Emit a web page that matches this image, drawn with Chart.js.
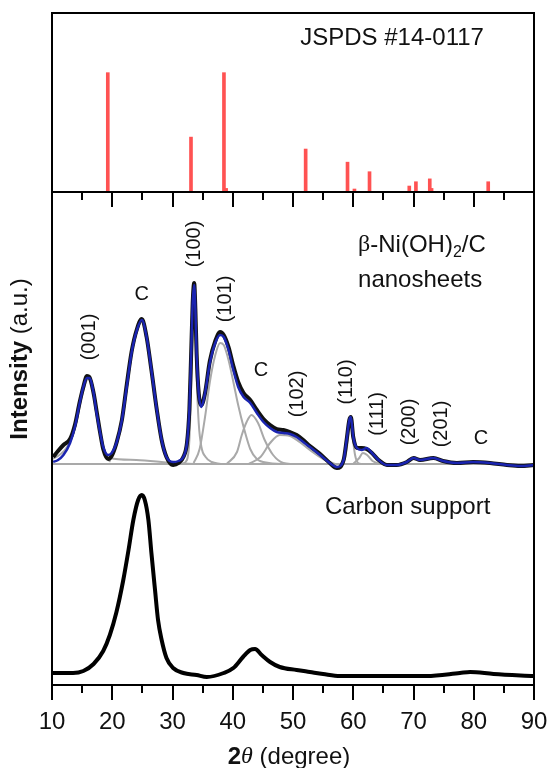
<!DOCTYPE html>
<html>
<head>
<meta charset="utf-8">
<script src="https://cdn.jsdelivr.net/npm/chart.js@4/dist/chart.umd.min.js"></script>
<style>
  body { margin: 0; background: #fff; }
  #wrap { position: relative; width: 548px; height: 768px; }
  canvas { position: absolute; left: 0; }
  #topChart { top: 0; }
  #mainChart { top: 192px; }
</style>
</head>
<body>
<div id="wrap">
  <canvas id="topChart" width="548" height="212"></canvas>
  <canvas id="mainChart" width="548" height="576"></canvas>
</div>
<script>
// reference pattern JSPDS #14-0117 (2θ, relative intensity)
const refPos = [19.26, 33.07, 38.54, 38.9, 52.1, 59.05, 60.2, 62.7, 69.3, 70.4, 72.7, 73.0, 82.4];
const refInt = [100, 46, 100, 3, 36, 25, 2.5, 17, 5, 8.6, 11, 3, 8.6];

// beta-Ni(OH)2/C nanosheets (offset a.u.)
const fitX = [10.2, 11.0, 11.9, 13.0, 13.8, 14.6, 15.2, 15.8, 16.2, 16.9, 17.4, 18.0, 18.5, 19.3, 19.9,
  20.7, 21.6, 22.4, 23.2, 24.1, 24.9, 25.7, 26.5, 27.4, 28.2, 29.0, 30.1, 31.0, 31.8, 32.4, 32.8,
  33.1, 33.35, 33.6, 33.8, 34.0, 34.35, 34.8, 35.4, 36.2, 37.1, 37.9, 38.5, 39.3, 40.1, 40.9, 41.8,
  42.9, 44.0, 45.1, 46.2, 47.3, 48.4, 49.5, 50.6, 51.7, 52.8, 54.5, 56.1, 57.3, 58.4, 58.9, 59.35,
  59.6, 60.0, 60.6, 61.4, 62.2, 63.1, 64.2, 65.6, 67.2, 68.9, 70.0, 71.1, 73.3, 74.9, 77.2, 79.9,
  82.7, 85.5, 87.7, 90.0];
const fitY = [223, 225, 230, 242, 258, 282, 298, 307, 307, 292, 272, 252, 238, 230, 232,
  242, 265, 298, 332, 355, 365, 348, 315, 275, 245, 228, 223, 224, 228, 242, 275,
  332, 382, 400, 375, 332, 292, 278, 292, 322, 342, 350, 348, 335, 315, 298, 288,
  282, 272, 263, 257, 253, 252, 251, 248, 243, 238, 230, 222, 218, 225, 245, 265,
  268, 248, 237, 235, 237, 232, 225, 220, 220, 223, 227, 225, 227, 224, 222, 223,
  222, 220, 219, 220];
const rawY = [228, 234, 240, 246, 260, 283, 298, 309, 308, 292, 274, 252, 236, 226, 229,
  242, 265, 300, 333, 356, 366, 348, 315, 275, 245, 228, 220, 222, 228, 242, 275,
  332, 382, 402, 375, 332, 292, 280, 292, 324, 344, 353, 350, 338, 319, 303, 292,
  285, 275, 266, 260, 256, 255, 253, 250, 245, 239, 231, 222, 217, 225, 245, 265,
  268, 248, 237, 237, 236, 232, 225, 220, 220, 223, 227, 225, 227, 224, 222, 223,
  222, 220, 219, 220];

// fitted components
const baseLine = [[10, 221], [90, 221]];
const peak001 = [[10, 226], [11, 229], [12, 234], [13, 243], [14, 262], [15, 290], [16, 306], [16.6, 302],
  [17.4, 272], [18.2, 244], [19, 230], [19.6, 227], [24, 225], [30, 222], [34, 221]];
const peakC1 = [[19.5, 223], [20.7, 240], [21.6, 264], [22.4, 297], [23.2, 331], [24.1, 354], [24.9, 364],
  [25.7, 347], [26.5, 314], [27.4, 274], [28.2, 244], [29, 228], [30, 222], [31, 221]];
const peak100 = [[31.5, 221], [32.4, 225], [32.8, 245], [33.1, 300], [33.35, 360], [33.6, 392], [33.8, 365],
  [34.0, 310], [34.35, 262], [34.8, 238], [35.5, 228], [36.5, 223], [38, 221]];
const peak101 = [[33.5, 222], [34.5, 236], [35.4, 268], [36.2, 303], [37.1, 330], [37.9, 342], [38.5, 340],
  [39.3, 325], [40.1, 303], [40.9, 280], [41.8, 258], [42.9, 236], [44, 226], [46, 222], [48, 221]];
const peakC2 = [[39, 221], [40.7, 233], [41.5, 250], [42.3, 263], [43.1, 270], [44.2, 262], [45.3, 245],
  [46.7, 230], [48.4, 222], [50, 221]];
const peak102 = [[42.6, 221], [44.6, 228], [46.2, 242], [47.8, 250], [49.5, 249], [51.1, 243], [52.8, 235],
  [55, 226], [57, 221]];
const peak110 = [[57.8, 221], [58.6, 226], [59.0, 240], [59.35, 258], [59.6, 262], [59.9, 248], [60.3, 230],
  [60.8, 222], [61.5, 221]];
const peak111 = [[60, 221], [61.0, 227], [61.6, 232], [62.3, 230], [63.2, 224], [64.5, 221]];

// carbon support
const carbonX = [10, 11.3, 13.5, 15.2, 16.9, 18.5, 19.6, 20.7, 21.8, 22.7, 23.5, 24.3, 24.9, 25.4, 26.0,
  26.5, 27.1, 27.6, 28.2, 29.0, 30.1, 31.8, 34.0, 35.7, 38.5, 40.1, 41.7, 42.9, 43.7, 44.8, 46.2,
  47.8, 50.6, 52.8, 55.0, 57.8, 60.6, 66.1, 72.2, 77.7, 79.4, 83.3, 90];
const carbonY = [12, 12, 12, 14, 21, 34, 50, 73, 104, 135, 165, 185, 190, 185, 165,
  132, 95, 65, 45, 27, 17, 12, 10, 8, 12, 17, 28, 35, 36, 30, 23,
  18, 15, 13, 11, 9, 9, 9, 9, 12, 13, 11, 9];

// peak labels: text, 2θ, height, rotated
const peakLabels = [
  ['(001)', 16.3, 348, true], ['C', 24.9, 391, false], ['(100)', 33.7, 441, true],
  ['(101)', 38.8, 386, true], ['C', 44.7, 315, false], ['(102)', 50.8, 291, true],
  ['(110)', 58.9, 303, true], ['(111)', 64.1, 271, true], ['(200)', 69.4, 263, true],
  ['(201)', 74.6, 261, true], ['C', 81.2, 247, false]
];

const FONT = "'Liberation Sans', Arial, sans-serif";
const pts = (xs, ys) => xs.map((x, i) => ({ x, y: ys[i] }));
const pairs = arr => arr.map(p => ({ x: p[0], y: p[1] }));

function minorTicks(ctx, xs, y0) {
  ctx.beginPath();
  for (let v = 15; v < 90; v += 10) {
    const px = Math.round(xs.getPixelForValue(v));
    ctx.moveTo(px, y0);
    ctx.lineTo(px, y0 + 8);
  }
  ctx.stroke();
}

function xAxis(showLabels) {
  return {
    type: 'linear', min: 10, max: 90, offset: false,
    ticks: { display: showLabels, stepSize: 10, color: '#111', padding: 8, font: { family: FONT, size: 24 } },
    grid: { drawOnChartArea: false, offset: false, tickLength: 15, color: '#000', lineWidth: 2 },
    border: { display: true, color: '#000', width: 2 },
    afterFit(s) {
      s.paddingLeft = 0; s.paddingRight = 0;
      s.height = showLabels ? 83 : 20;
    }
  };
}

/* ======================
   TOP: reference sticks
====================== */
const topDeco = {
  id: 'topDeco',
  afterDraw(chart) {
    const { ctx, chartArea: a, scales: { x, y } } = chart;
    ctx.save();
    ctx.strokeStyle = '#000';
    ctx.lineWidth = 2;
    ctx.strokeRect(a.left, a.top, a.right - a.left, a.bottom - a.top);
    minorTicks(ctx, x, a.bottom);
    ctx.fillStyle = '#111';
    ctx.font = '24px ' + FONT;
    ctx.textBaseline = 'middle';
    ctx.fillText('JSPDS #14-0117', x.getPixelForValue(51.2), y.getPixelForValue(129));
    ctx.restore();
  }
};

new Chart(document.getElementById('topChart'), {
  type: 'bar',
  data: {
    datasets: [{
      data: pts(refPos, refInt),
      backgroundColor: '#ff5252',
      barThickness: 3,
      grouped: false
    }]
  },
  options: {
    responsive: false,
    animation: false,
    layout: { padding: { top: 13, left: 52, right: 14, bottom: 0 } },
    plugins: { legend: { display: false }, tooltip: { enabled: false } },
    scales: {
      x: xAxis(false),
      y: { display: false, min: 0, max: 150 }
    }
  },
  plugins: [topDeco]
});

/* ======================
   MAIN: measured patterns
====================== */
const mainDeco = {
  id: 'mainDeco',
  afterDraw(chart) {
    const { ctx, chartArea: a, scales: { x, y } } = chart;
    ctx.save();
    ctx.strokeStyle = '#000';
    ctx.lineWidth = 2;
    ctx.beginPath();
    ctx.moveTo(a.left, a.top); ctx.lineTo(a.left, a.bottom);
    ctx.moveTo(a.right, a.top); ctx.lineTo(a.right, a.bottom);
    ctx.stroke();
    minorTicks(ctx, x, a.bottom);

    ctx.fillStyle = '#111';
    ctx.textBaseline = 'middle';
    ctx.textAlign = 'center';
    ctx.font = '20px ' + FONT;
    peakLabels.forEach(([t, px, py, rot]) => {
      ctx.save();
      ctx.translate(x.getPixelForValue(px), y.getPixelForValue(py));
      if (rot) ctx.rotate(-Math.PI / 2);
      ctx.fillText(t, 0, 0);
      ctx.restore();
    });

    // sample names
    ctx.textAlign = 'left';
    let lx = x.getPixelForValue(60.8), ly = y.getPixelForValue(440);
    ctx.font = "24px 'Liberation Serif', serif";
    ctx.fillText('β', lx, ly);
    lx += ctx.measureText('β').width;
    ctx.font = '24px ' + FONT;
    ctx.fillText('-Ni(OH)', lx, ly);
    lx += ctx.measureText('-Ni(OH)').width;
    ctx.font = '16px ' + FONT;
    ctx.fillText('2', lx, ly + 8);
    lx += ctx.measureText('2').width;
    ctx.font = '24px ' + FONT;
    ctx.fillText('/C', lx, ly);
    ctx.fillText('nanosheets', x.getPixelForValue(60.8), y.getPixelForValue(405));
    ctx.fillText('Carbon support', x.getPixelForValue(55.3), y.getPixelForValue(178));

    // x title: 2θ (degree)
    const parts = [
      ['2', 'bold 24px ' + FONT],
      ['θ', "italic 24px 'Liberation Serif', serif"],
      [' (degree)', '24px ' + FONT]
    ];
    let total = 0;
    parts.forEach(p => { ctx.font = p[1]; total += ctx.measureText(p[0]).width; });
    let tx = (a.left + a.right) / 2 - total / 2 - 4;
    parts.forEach(p => {
      ctx.font = p[1];
      ctx.fillText(p[0], tx, 565);
      tx += ctx.measureText(p[0]).width;
    });

    // y title: Intensity (a.u.)
    ctx.save();
    ctx.translate(20, 167);
    ctx.rotate(-Math.PI / 2);
    ctx.font = 'bold 24px ' + FONT;
    const w1 = ctx.measureText('Intensity').width;
    ctx.font = '24px ' + FONT;
    const w2 = ctx.measureText(' (a.u.)').width;
    let sx = -(w1 + w2) / 2;
    ctx.font = 'bold 24px ' + FONT;
    ctx.fillText('Intensity', sx, 0);
    ctx.font = '24px ' + FONT;
    ctx.fillText(' (a.u.)', sx + w1, 0);
    ctx.restore();

    ctx.restore();
  }
};

const grayLine = arr => ({
  data: pairs(arr), borderColor: '#a9a9a9', borderWidth: 2, pointRadius: 0,
  cubicInterpolationMode: 'monotone'
});

new Chart(document.getElementById('mainChart'), {
  type: 'line',
  data: {
    datasets: [
      { data: pts(fitX, fitY), borderColor: '#1a24b0', borderWidth: 2.5, pointRadius: 0, cubicInterpolationMode: 'monotone' },
      { data: pts(fitX, rawY), borderColor: '#111', borderWidth: 4, pointRadius: 0, cubicInterpolationMode: 'monotone' },
      { data: pts(carbonX, carbonY), borderColor: '#000', borderWidth: 4, pointRadius: 0, cubicInterpolationMode: 'monotone' },
      grayLine(peak001), grayLine(peakC1), grayLine(peak100), grayLine(peak101),
      grayLine(peakC2), grayLine(peak102), grayLine(peak110), grayLine(peak111),
      grayLine(baseLine)
    ]
  },
  options: {
    responsive: false,
    animation: false,
    layout: { padding: { top: 0, left: 52, right: 14, bottom: 0 } },
    plugins: { legend: { display: false }, tooltip: { enabled: false } },
    scales: {
      x: xAxis(true),
      y: { display: false, min: 0, max: 493 }
    }
  },
  plugins: [mainDeco]
});
</script>
</body>
</html>
